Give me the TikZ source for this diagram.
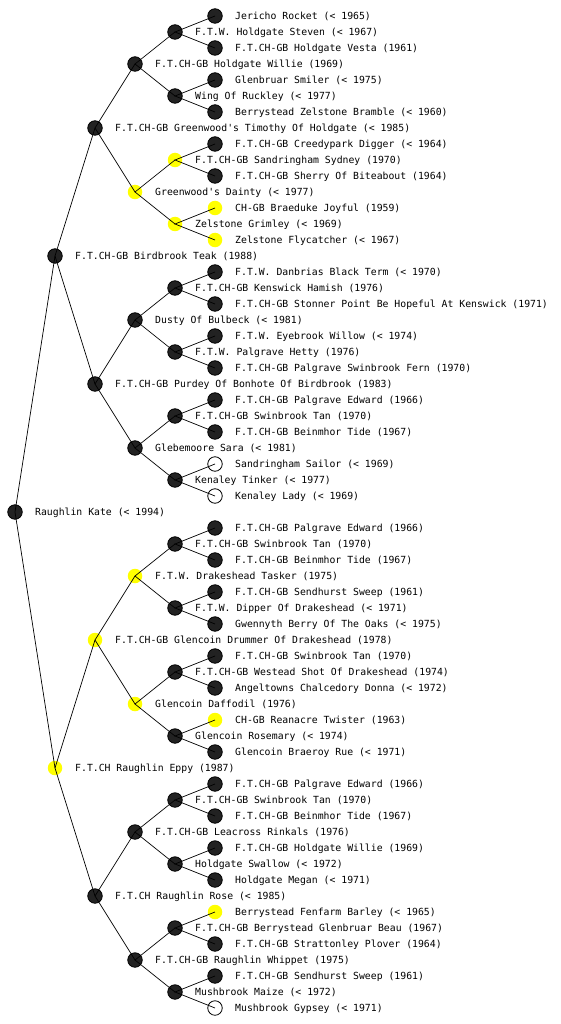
\documentclass[tikz,border=0pt]{standalone}
\usepackage{fontspec}
\setmonofont{DejaVu Sans Mono}
\usepackage{xcolor}
\definecolor{dogBlack}{HTML}{222222}
\definecolor{dogYellow}{HTML}{FFFF00}

\begin{document}
\begin{tikzpicture}[x=1pt,y=-1pt]
  \tikzset{
    dog/.style={circle,minimum size=14.5pt,inner sep=0pt,line width=0.8pt},
    blk/.style={dog,draw=black,fill=dogBlack},
    yel/.style={dog,fill=dogYellow},
    wht/.style={dog,draw=black},
    dogname/.style={font=\ttfamily\fontsize{9.8}{12}\selectfont,anchor=base west,inner sep=0pt},
    link/.style={line width=0.7pt}
  }
  \useasboundingbox (0,0) rectangle (560,1024);

  % one row per dog, top to bottom
  \foreach \x/\c/\t [count=\r] in {
    215/blk/Jericho Rocket (< 1965),
    175/blk/F.T.W. Holdgate Steven (< 1967),
    215/blk/F.T.CH-GB Holdgate Vesta (1961),
    135/blk/F.T.CH-GB Holdgate Willie (1969),
    215/blk/Glenbruar Smiler (< 1975),
    175/blk/Wing Of Ruckley (< 1977),
    215/blk/Berrystead Zelstone Bramble (< 1960),
    95/blk/F.T.CH-GB Greenwood's Timothy Of Holdgate (< 1985),
    215/blk/F.T.CH-GB Creedypark Digger (< 1964),
    175/yel/F.T.CH-GB Sandringham Sydney (1970),
    215/blk/F.T.CH-GB Sherry Of Biteabout (1964),
    135/yel/Greenwood's Dainty (< 1977),
    215/yel/CH-GB Braeduke Joyful (1959),
    175/yel/Zelstone Grimley (< 1969),
    215/yel/Zelstone Flycatcher (< 1967),
    55/blk/F.T.CH-GB Birdbrook Teak (1988),
    215/blk/F.T.W. Danbrias Black Term (< 1970),
    175/blk/F.T.CH-GB Kenswick Hamish (1976),
    215/blk/F.T.CH-GB Stonner Point Be Hopeful At Kenswick (1971),
    135/blk/Dusty Of Bulbeck (< 1981),
    215/blk/F.T.W. Eyebrook Willow (< 1974),
    175/blk/F.T.W. Palgrave Hetty (1976),
    215/blk/F.T.CH-GB Palgrave Swinbrook Fern (1970),
    95/blk/F.T.CH-GB Purdey Of Bonhote Of Birdbrook (1983),
    215/blk/F.T.CH-GB Palgrave Edward (1966),
    175/blk/F.T.CH-GB Swinbrook Tan (1970),
    215/blk/F.T.CH-GB Beinmhor Tide (1967),
    135/blk/Glebemoore Sara (< 1981),
    215/wht/Sandringham Sailor (< 1969),
    175/blk/Kenaley Tinker (< 1977),
    215/wht/Kenaley Lady (< 1969),
    15/blk/Raughlin Kate (< 1994),
    215/blk/F.T.CH-GB Palgrave Edward (1966),
    175/blk/F.T.CH-GB Swinbrook Tan (1970),
    215/blk/F.T.CH-GB Beinmhor Tide (1967),
    135/yel/F.T.W. Drakeshead Tasker (1975),
    215/blk/F.T.CH-GB Sendhurst Sweep (1961),
    175/blk/F.T.W. Dipper Of Drakeshead (< 1971),
    215/blk/Gwennyth Berry Of The Oaks (< 1975),
    95/yel/F.T.CH-GB Glencoin Drummer Of Drakeshead (1978),
    215/blk/F.T.CH-GB Swinbrook Tan (1970),
    175/blk/F.T.CH-GB Westead Shot Of Drakeshead (1974),
    215/blk/Angeltowns Chalcedory Donna (< 1972),
    135/yel/Glencoin Daffodil (1976),
    215/yel/CH-GB Reanacre Twister (1963),
    175/blk/Glencoin Rosemary (< 1974),
    215/blk/Glencoin Braeroy Rue (< 1971),
    55/yel/F.T.CH Raughlin Eppy (1987),
    215/blk/F.T.CH-GB Palgrave Edward (1966),
    175/blk/F.T.CH-GB Swinbrook Tan (1970),
    215/blk/F.T.CH-GB Beinmhor Tide (1967),
    135/blk/F.T.CH-GB Leacross Rinkals (1976),
    215/blk/F.T.CH-GB Holdgate Willie (1969),
    175/blk/Holdgate Swallow (< 1972),
    215/blk/Holdgate Megan (< 1971),
    95/blk/F.T.CH Raughlin Rose (< 1985),
    215/yel/Berrystead Fenfarm Barley (< 1965),
    175/blk/F.T.CH-GB Berrystead Glenbruar Beau (1967),
    215/blk/F.T.CH-GB Strattonley Plover (1964),
    135/blk/F.T.CH-GB Raughlin Whippet (1975),
    215/blk/F.T.CH-GB Sendhurst Sweep (1961),
    175/blk/Mushbrook Maize (< 1972),
    215/wht/Mushbrook Gypsey (< 1971)}
    {\node[\c] (n\r) at (\x,16*\r) {};
     \node[dogname] (t\r) at (\x+20,16*\r+3.5) {\t};}

  % sire and dam links
  \foreach \g/\k in {16/0,8/1,4/3,2/7,1/15}
    \foreach \m in {0,...,\k}
      {\pgfmathtruncatemacro\p{2*\g*(2*\m+1)}
       \pgfmathtruncatemacro\a{\p-\g}
       \pgfmathtruncatemacro\b{\p+\g}
       \draw[link] (n\a.center) -- (n\p.center) -- (n\b.center);}
\end{tikzpicture}
\end{document}
